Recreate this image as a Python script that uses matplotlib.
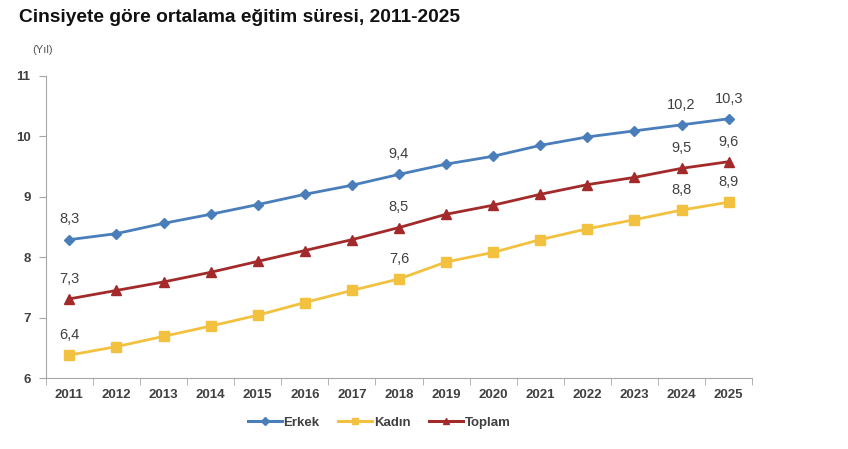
import matplotlib.pyplot as plt
from matplotlib.lines import Line2D

years = list(range(2011, 2026))
erkek = [8.29, 8.39, 8.56, 8.71, 8.87, 9.04, 9.19, 9.37, 9.54, 9.67, 9.85, 9.99, 10.09, 10.19, 10.29]
kadin = [6.38, 6.52, 6.69, 6.86, 7.04, 7.25, 7.45, 7.64, 7.92, 8.08, 8.29, 8.47, 8.62, 8.78, 8.91]
toplam = [7.31, 7.45, 7.59, 7.75, 7.93, 8.11, 8.29, 8.49, 8.71, 8.86, 9.04, 9.20, 9.32, 9.47, 9.58]
label_years = [2011, 2018, 2024, 2025]

plt.rcParams['font.family'] = ['Liberation Sans', 'DejaVu Sans']

c_erkek = '#4A7EBB'
c_kadin = '#F3C140'
c_toplam = '#A32A2A'
txt = '#404040'

fig = plt.figure(figsize=(8.48, 4.49), dpi=100)
ax = fig.add_axes([0.054, 0.158, 0.833, 0.673])

ax.plot(years, erkek, color=c_erkek, lw=2.0, marker='D', ms=5)
ax.plot(years, kadin, color=c_kadin, lw=2.0, marker='s', ms=7)
ax.plot(years, toplam, color=c_toplam, lw=2.0, marker='^', ms=7)

for series in (erkek, kadin, toplam):
    for yr in label_years:
        v = series[years.index(yr)]
        ax.annotate(f"{v:.1f}".replace('.', ','), (yr, v), xytext=(0, 9.5),
                    textcoords='offset points', ha='center', va='bottom',
                    fontsize=10.5, color=txt)

ax.set_xlim(2010.5, 2025.5)
ax.set_ylim(6, 11)
ax.set_yticks(range(6, 12))
ax.set_xticks(years)
ax.set_xticks([y + 0.5 for y in [2010] + years], minor=True)
ax.tick_params(axis='x', which='major', length=0, pad=8)
ax.tick_params(axis='x', which='minor', length=5, color='#A6A6A6')
ax.tick_params(axis='y', length=5, color='#A6A6A6', pad=6)
for lab in ax.get_xticklabels() + ax.get_yticklabels():
    lab.set_fontsize(9.5)
    lab.set_color(txt)
    lab.set_fontweight('bold')

for s in ('top', 'right'):
    ax.spines[s].set_visible(False)
for s in ('left', 'bottom'):
    ax.spines[s].set_color('#A6A6A6')

fig.text(0.022, 0.962, 'Cinsiyete göre ortalama eğitim süresi, 2011-2025',
         fontsize=13.8, fontweight='bold', color='#111111', va='center')
fig.text(0.038, 0.889, '(Yıl)', fontsize=8, color='#555555', va='center')

handles = [
    Line2D([], [], color=c_erkek, lw=2.2, marker='D', ms=4),
    Line2D([], [], color=c_kadin, lw=2.2, marker='s', ms=5),
    Line2D([], [], color=c_toplam, lw=2.2, marker='^', ms=5),
]
leg = fig.legend(handles, ['Erkek', 'Kadın', 'Toplam'], loc='center',
                 bbox_to_anchor=(0.447, 0.058), ncol=3, frameon=False,
                 fontsize=9.5, handlelength=2.6, handletextpad=0.1, columnspacing=1.4)
for t in leg.get_texts():
    t.set_color(txt)
    t.set_fontweight('bold')

fig.savefig('out.png', dpi=100)
